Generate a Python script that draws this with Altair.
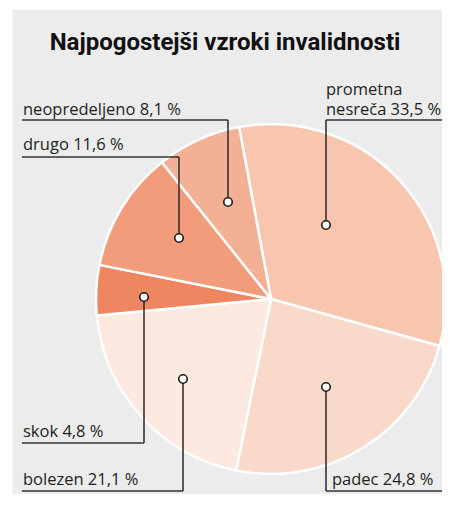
import math
import altair as alt
import pandas as pd

# ---- data ----
categories = ["prometna nesreča", "padec", "bolezen", "skok", "drugo", "neopredeljeno"]
values = [33.5, 24.8, 21.1, 4.8, 11.6, 8.1]
colors = ["#f8c5ae", "#f9d9c9", "#fde9df", "#ef8662", "#f29c7b", "#f4b094"]
title_text = "Najpogostejši vzroki invalidnosti"

# ---- annotation layout (page pixels) ----
# text x, text baselines (one per line), underline x1, x2, y, dot x, dot y
label_layout = {
    "prometna nesreča": (326, [95, 115], 326, 442, 120, 326, 225),
    "padec": (332, [485], 326, 442, 491, 326, 387),
    "bolezen": (23, [485], 22, 183, 491, 183, 379),
    "skok": (23, [437], 22, 144, 443, 144, 297),
    "drugo": (23, [150], 22, 179, 157, 179, 238),
    "neopredeljeno": (23, [115], 22, 228, 120, 228, 202),
}

W, H = 430, 485
X0, Y0 = 12, 9
CX, CY, R = 271, 299, 175
start = math.radians(-10.5)

pie_df = pd.DataFrame({"cat": categories, "val": values, "order": list(range(len(categories)))})

text_rows, rule_rows, dot_rows = [], [], []
for c, v in zip(categories, values):
    tx, tys, ux1, ux2, uy, dx, dy = label_layout[c]
    full = f"{c} {v:.1f}".replace(".", ",") + " %"
    words = full.split(" ")
    lines = [full] if len(tys) == 1 else [words[0], " ".join(words[1:])]
    for line, ty in zip(lines, tys):
        text_rows.append({"t": line, "x": tx, "y": ty})
    rule_rows.append({"x": ux1, "y": uy, "x2": ux2, "y2": uy})
    rule_rows.append({"x": dx, "y": uy, "x2": dx, "y2": dy})
    dot_rows.append({"x": dx, "y": dy})

xs = alt.Scale(domain=[X0, X0 + W], range=[0, W])
ys = alt.Scale(domain=[Y0, Y0 + H], range=[0, H])

pie = alt.Chart(pie_df).mark_arc(
    outerRadius=R, stroke="white", strokeWidth=2.5
).encode(
    theta=alt.Theta("val:Q", stack=True, scale=alt.Scale(range=[start, start + 2 * math.pi])),
    color=alt.Color("cat:N", scale=alt.Scale(domain=categories, range=colors), legend=None),
    order=alt.Order("order:Q"),
    x=alt.value(CX - X0),
    y=alt.value(CY - Y0),
)

rules = alt.Chart(pd.DataFrame(rule_rows)).mark_rule(
    color="#333333", strokeWidth=1.6
).encode(
    x=alt.X("x:Q", scale=xs, axis=None),
    y=alt.Y("y:Q", scale=ys, axis=None),
    x2="x2:Q",
    y2="y2:Q",
)

dots = alt.Chart(pd.DataFrame(dot_rows)).mark_point(
    shape="circle", filled=True, fill="white", stroke="#1a1a1a", strokeWidth=1.6, size=72, opacity=1
).encode(
    x=alt.X("x:Q", scale=xs, axis=None),
    y=alt.Y("y:Q", scale=ys, axis=None),
)

texts = alt.Chart(pd.DataFrame(text_rows)).mark_text(
    align="left", baseline="alphabetic", font="Open Sans", fontSize=16.5, color="#231f20"
).encode(
    x=alt.X("x:Q", scale=xs, axis=None),
    y=alt.Y("y:Q", scale=ys, axis=None),
    text="t:N",
)

title = alt.Chart(pd.DataFrame({"t": [title_text]})).mark_text(
    align="center", baseline="alphabetic", font="Roboto", fontSize=24, fontWeight="bold", color="#111111"
).encode(
    x=alt.value(225 - X0),
    y=alt.value(50 - Y0),
    text="t:N",
)

chart = alt.layer(pie, rules, dots, texts, title).properties(
    width=W, height=H,
    autosize=alt.AutoSizeParams(type="none"),
    padding={"left": 4, "top": 1, "right": 0, "bottom": 0},
    background="white",
).configure_view(fill="#ebeceb", stroke="transparent")

chart.save("out.html", embed_options={"renderer": "svg", "actions": False})
